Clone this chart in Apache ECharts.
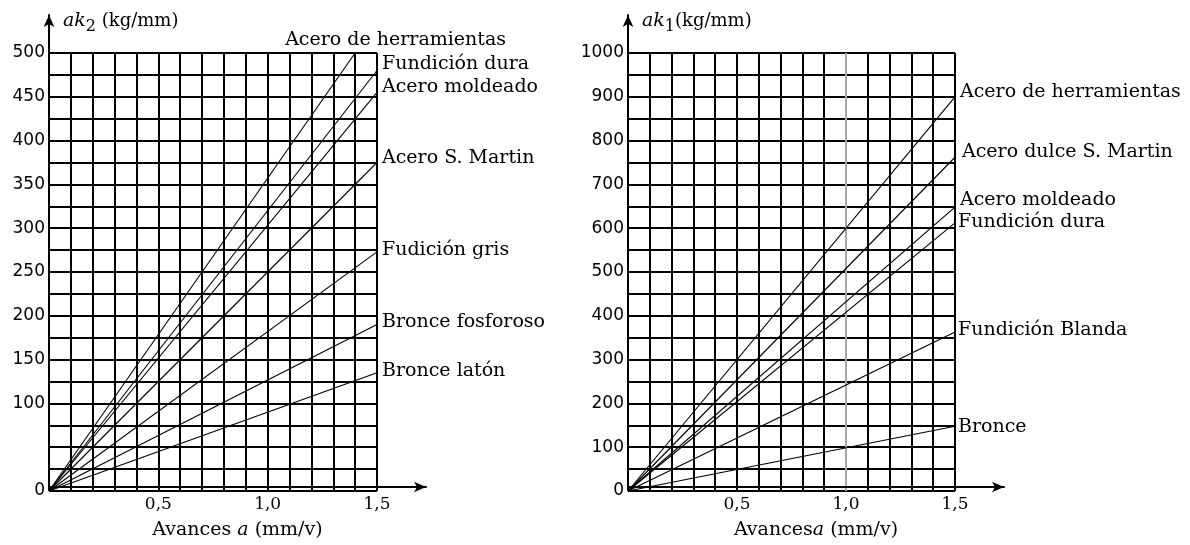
<!DOCTYPE html>
<html>
<head>
<meta charset="utf-8">
<script src="https://cdn.jsdelivr.net/npm/echarts@6/dist/echarts.min.js"></script>
<style>
  html, body { margin: 0; background: #fff; }
  #chart { width: 1190px; height: 545px; }
</style>
</head>
<body>
<div id="chart"></div>
<script>
// ak2 (izquierda)
var leftNames = ['Acero de herramientas', 'Fundición dura', 'Acero moldeado', 'Acero S. Martin', 'Fudición gris', 'Bronce fosforoso', 'Bronce latón']
var leftEndA = [1.4, 1.5, 1.5, 1.5, 1.5, 1.5, 1.5]
var leftEndK = [500, 480, 455, 375, 273, 190, 135]
var leftYLabels = [0, 100, 150, 200, 250, 300, 350, 400, 450, 500]

// ak1 (derecha)
var rightNames = ['Acero de herramientas', 'Acero dulce S. Martin', 'Acero moldeado', 'Fundición dura', 'Fundición Blanda', 'Bronce']
var rightEndA = [1.5, 1.5, 1.5, 1.5, 1.5, 1.5]
var rightEndK = [900, 762, 648, 612, 363, 148]
var rightYLabels = [0, 100, 200, 300, 400, 500, 600, 700, 800, 900, 1000]

var xLabelAt = [0.5, 1.0, 1.5]
var xLabels = ['0,5', '1,0', '1,5']

// desplazamiento de los rótulos
var leftLabelOffset = [[-75, -13], [0, -6], [0, -5], [0, -4], [0, -2], [0, -2], [0, -2]]
var rightLabelOffset = [[0, -5], [2, -5], [0, -7], [-2, -1], [-2, -2], [-2, 1]]

var serif = 'DejaVu Serif'
var black = '#000'

function xFmt(v) {
  for (var i = 0; i < xLabelAt.length; i++) {
    if (Math.abs(xLabelAt[i] - v) < 1e-6) return xLabels[i]
  }
  return ''
}

function splitColors(n, grayAt) {
  var c = []
  for (var i = 0; i < n; i++) c.push(i === grayAt ? '#a8a8a8' : black)
  return c
}

function dataX(grid, grayAt) {
  return {
    type: 'value', gridIndex: grid, min: 0, max: 1.5, interval: 0.1,
    axisLine: { show: false },
    axisTick: { show: false },
    axisLabel: { formatter: xFmt, margin: 5, color: black, fontFamily: serif, fontSize: 17 },
    splitLine: { show: true, lineStyle: { color: splitColors(16, grayAt), width: 2 } }
  }
}

function dataY(grid, max, interval, labels) {
  return {
    type: 'value', gridIndex: grid, min: 0, max: max, interval: interval,
    axisLine: { show: false },
    axisTick: { show: false },
    axisLabel: {
      formatter: function (v) { return labels.indexOf(v) >= 0 ? String(v) : '' },
      margin: 4, color: black, fontFamily: 'DejaVu Sans', fontSize: 17
    },
    splitLine: { show: true, lineStyle: { color: black, width: 2 } }
  }
}

var arrowLine = { show: true, symbol: ['none', 'arrow'], symbolSize: [8, 12], lineStyle: { color: black, width: 2 } }

function frameX(grid, name) {
  return {
    type: 'value', gridIndex: grid, min: 0, max: 1,
    axisLine: arrowLine, axisTick: { show: false }, axisLabel: { show: false }, splitLine: { show: false },
    name: name, nameLocation: 'middle', nameGap: 34,
    nameTextStyle: { color: black, fontFamily: serif, fontSize: 19, rich: { i: { fontStyle: 'italic', fontFamily: serif, fontSize: 19 } } }
  }
}

function frameY(grid, name) {
  return {
    type: 'value', gridIndex: grid, min: 0, max: 1,
    axisLine: arrowLine, axisTick: { show: false }, axisLabel: { show: false }, splitLine: { show: false },
    name: name, nameLocation: 'end', nameGap: -6,
    nameTextStyle: {
      align: 'left', verticalAlign: 'middle', padding: [0, 0, 0, 14],
      color: black, fontFamily: serif, fontSize: 18,
      rich: {
        i: { fontStyle: 'italic', fontFamily: serif, fontSize: 19 },
        s: { fontFamily: serif, fontSize: 16, padding: [12, 0, 0, 0] },
        n: { fontFamily: serif, fontSize: 18 }
      }
    }
  }
}

function buildSeries(names, endA, endK, offsets, xi, yi) {
  return names.map(function (n, i) {
    return {
      name: n, type: 'line', xAxisIndex: xi, yAxisIndex: yi,
      data: [[0, 0], [endA[i], endK[i]]],
      symbol: 'none', silent: true,
      lineStyle: { color: black, width: 1.1 },
      endLabel: {
        show: true, formatter: '{a}', distance: 5, offset: offsets[i],
        color: black, fontFamily: serif, fontSize: 19
      }
    }
  })
}

var chart = echarts.init(document.getElementById('chart'))
var option = {
  animation: false,
  backgroundColor: '#fff',
  grid: [
    { left: 49, top: 53, width: 328, height: 438 },
    { left: 49, top: 15, width: 377, height: 476 },
    { left: 628, top: 53, width: 327, height: 438 },
    { left: 628, top: 15, width: 376, height: 476 }
  ],
  xAxis: [
    dataX(0, -1),
    frameX(1, 'Avances {i|a} (mm/v)'),
    dataX(2, 10),
    frameX(3, 'Avances{i|a} (mm/v)')
  ],
  yAxis: [
    dataY(0, 500, 25, leftYLabels),
    frameY(1, '{i|ak}{s|2} {n|(kg/mm)}'),
    dataY(2, 1000, 50, rightYLabels),
    frameY(3, '{i|ak}{s|1}{n|(kg/mm)}')
  ],
  series: buildSeries(leftNames, leftEndA, leftEndK, leftLabelOffset, 0, 0)
    .concat(buildSeries(rightNames, rightEndA, rightEndK, rightLabelOffset, 2, 2))
}
chart.setOption(option)

window.addEventListener('resize', function () {
  chart.resize()
})
</script>
</body>
</html>
